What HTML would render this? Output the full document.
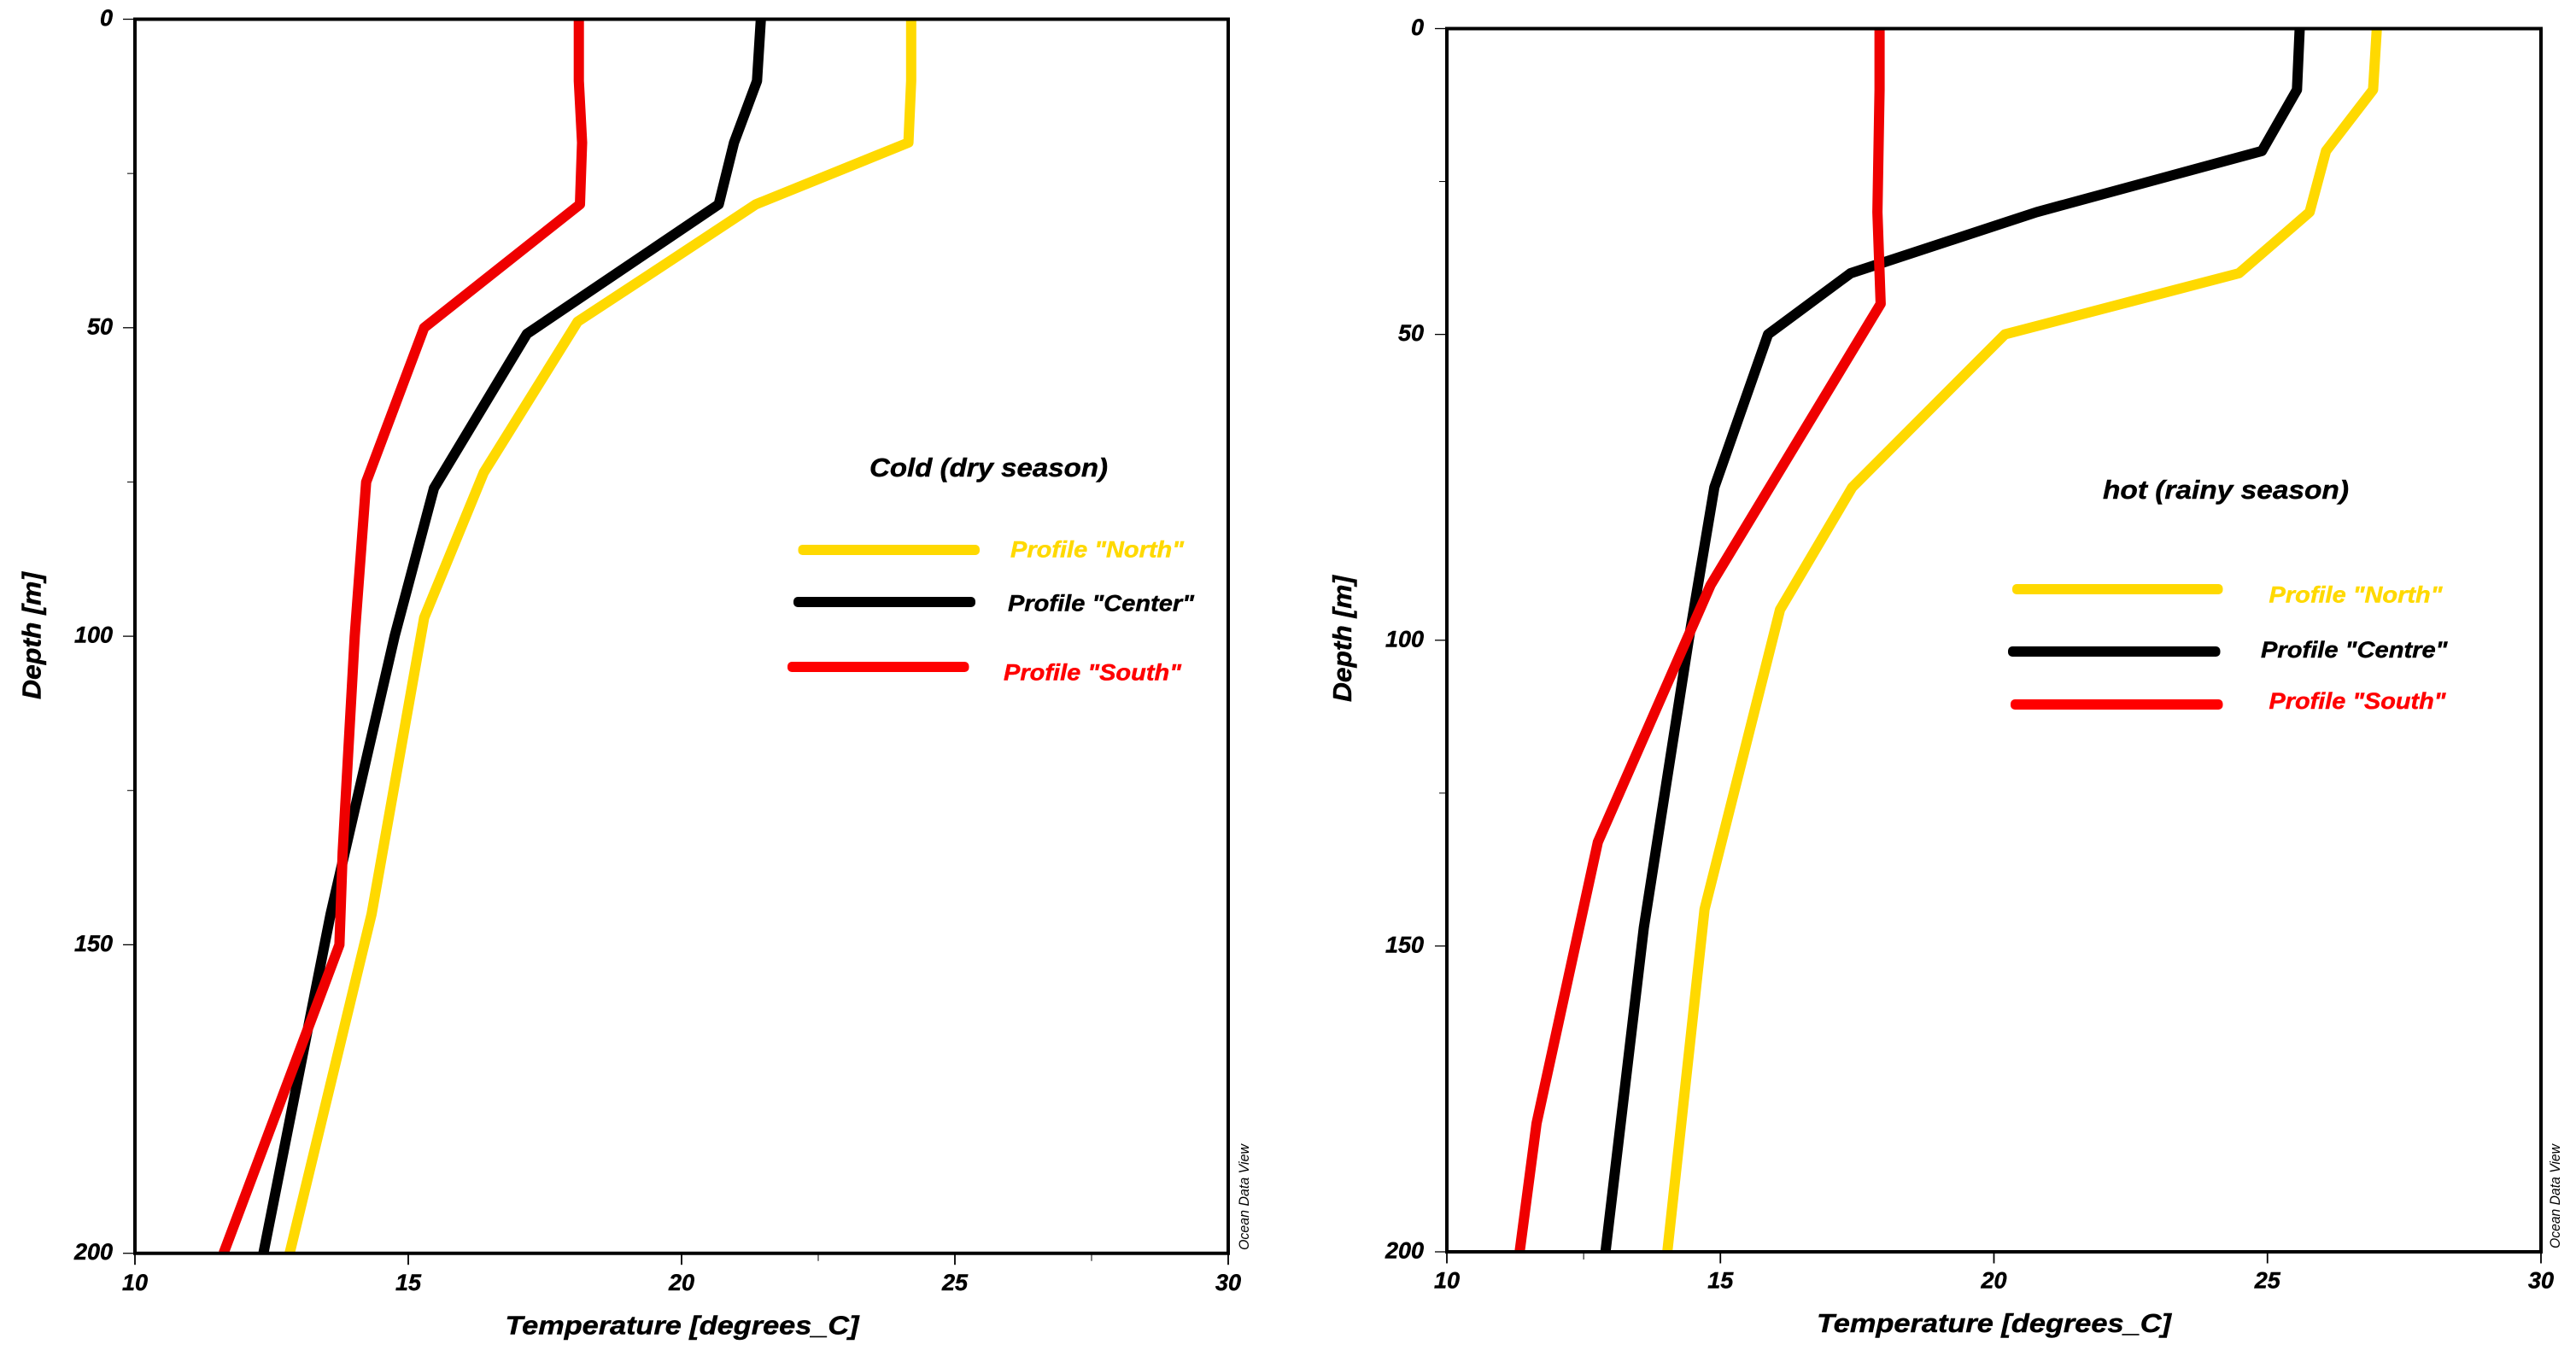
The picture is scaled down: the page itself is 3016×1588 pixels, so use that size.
<!DOCTYPE html>
<html lang="en">
<head>
<meta charset="utf-8">
<title>Temperature profiles by season</title>
<style>
  html, body { margin: 0; padding: 0; background: #fff; }
  svg { display: block; }
  text { font-family: "Liberation Sans", sans-serif; font-weight: bold; font-style: italic; fill: #000; stroke: #000; stroke-width: 0.45px; }
  .tick-label { font-size: 27px; }
  .axis-title { font-size: 31px; }
  .legend-title { font-size: 31px; }
  .legend-label { font-size: 27px; }
  .credit { font-size: 17px; font-weight: normal; stroke-width: 0; }
  .north-text { fill: #ffd900; stroke: #ffd900; }
  .south-text { fill: #ff0000; stroke: #ff0000; }
</style>
</head>
<body>
<svg id="chart" xmlns="http://www.w3.org/2000/svg" width="3016" height="1588" viewBox="0 0 3016 1588">
  <rect x="0" y="0" width="3016" height="1588" fill="#fff"/>
  <defs>
    <clipPath id="clip-cold"><rect x="158" y="22.5" width="1280" height="1445"/></clipPath>
    <clipPath id="clip-hot"><rect x="1694" y="33.5" width="1281" height="1432.5"/></clipPath>
  </defs>

  <g id="panel-cold">
    <text class="axis-title" x="591.5" y="1562.7" textLength="414" lengthAdjust="spacingAndGlyphs">Temperature [degrees_C]</text>
    <text class="axis-title" transform="translate(47.3,819) rotate(-90)" textLength="149" lengthAdjust="spacingAndGlyphs">Depth [m]</text>
    <text class="credit" transform="translate(1462,1464) rotate(-90)" textLength="124" lengthAdjust="spacingAndGlyphs">Ocean Data View</text>
    <g>
      <text class="legend-title" x="1018" y="558" textLength="279" lengthAdjust="spacingAndGlyphs">Cold (dry season)</text>
      <g>
        <rect x="934.5" y="638" width="212.5" height="12" rx="5" fill="#ffd900"/>
        <text class="legend-label north-text" x="1183" y="652.5" textLength="203" lengthAdjust="spacingAndGlyphs">Profile "North"</text>
      </g>
      <g>
        <rect x="929" y="699" width="213" height="12" rx="5" fill="#000"/>
        <text class="legend-label" x="1180" y="715.5" textLength="218" lengthAdjust="spacingAndGlyphs">Profile "Center"</text>
      </g>
      <g>
        <rect x="922" y="775" width="212.5" height="12" rx="5" fill="#ff0000"/>
        <text class="legend-label south-text" x="1175" y="796.5" textLength="208" lengthAdjust="spacingAndGlyphs">Profile "South"</text>
      </g>
    </g>
  </g>

  <g id="panel-hot">
    <text class="axis-title" x="2127" y="1560" textLength="415" lengthAdjust="spacingAndGlyphs">Temperature [degrees_C]</text>
    <text class="axis-title" transform="translate(1582,822) rotate(-90)" textLength="148" lengthAdjust="spacingAndGlyphs">Depth [m]</text>
    <text class="credit" transform="translate(2997,1462) rotate(-90)" textLength="122" lengthAdjust="spacingAndGlyphs">Ocean Data View</text>
    <g>
      <text class="legend-title" x="2462" y="584" textLength="288" lengthAdjust="spacingAndGlyphs">hot (rainy season)</text>
      <g>
        <rect x="2356" y="684" width="246.5" height="12" rx="5" fill="#ffd900"/>
        <text class="legend-label north-text" x="2656.5" y="705.5" textLength="203" lengthAdjust="spacingAndGlyphs">Profile "North"</text>
      </g>
      <g>
        <rect x="2351" y="757" width="248.5" height="12" rx="5" fill="#000"/>
        <text class="legend-label" x="2647" y="770" textLength="218.5" lengthAdjust="spacingAndGlyphs">Profile "Centre"</text>
      </g>
      <g>
        <rect x="2354" y="819" width="248.5" height="12" rx="5" fill="#ff0000"/>
        <text class="legend-label south-text" x="2656.5" y="830" textLength="207" lengthAdjust="spacingAndGlyphs">Profile "South"</text>
      </g>
    </g>
  </g>
</svg>

<script>
// Axis ticks and labels
var xTickLabels = ['10', '15', '20', '25', '30'];
var yTickLabels = ['0', '50', '100', '150', '200'];
var coldXMinorTicks = [22.5, 27.5];
var coldYMinorTicks = [25, 75, 125];
var hotXMinorTicks = [12.5];
var hotYMinorTicks = [25, 125];

// Cold (dry season) profiles
var coldNorthDepth = [0, 10, 20, 30, 40, 49, 73.5, 97, 145, 200];
var coldNorthTemp = [24.2, 24.2, 24.15, 21.36, 19.65, 18.1, 16.38, 15.29, 14.33, 12.83];
var coldCenterDepth = [0, 10, 20, 30, 51, 76, 100, 145, 200];
var coldCenterTemp = [21.45, 21.38, 20.96, 20.68, 17.17, 15.47, 14.75, 13.58, 12.35];
var coldSouthDepth = [0, 10, 20, 30, 50, 75, 100, 135, 150, 200];
var coldSouthTemp = [18.12, 18.12, 18.18, 18.14, 15.29, 14.23, 14.02, 13.8, 13.74, 11.62];

// Hot (rainy season) profiles
var hotNorthDepth = [0, 10, 20, 30, 40, 50, 75, 95, 144, 200];
var hotNorthTemp = [27.0, 26.93, 26.07, 25.77, 24.48, 20.2, 17.41, 16.09, 14.71, 14.03];
var hotCentreDepth = [0, 10, 20, 30, 40, 50, 75, 100, 147, 200];
var hotCentreTemp = [25.59, 25.54, 24.9, 20.78, 17.38, 15.87, 14.89, 14.42, 13.6, 12.9];
var hotSouthDepth = [0, 10, 30, 45, 91, 133, 179, 200];
var hotSouthTemp = [17.91, 17.91, 17.87, 17.93, 14.82, 12.76, 11.64, 11.33];

var NS = 'http://www.w3.org/2000/svg';
var YELLOW = '#ffd900';
var BLACK = '#000000';
var RED = '#ef0000';

var coldPanel = { key: 'cold', left: 158, right: 1438, top: 22.5, bottom: 1467.7, yLabelRight: 132, xLabelBase: 1511, xMinorTicks: coldXMinorTicks, yMinorTicks: coldYMinorTicks };
var hotPanel = { key: 'hot', left: 1694, right: 2975, top: 33.5, bottom: 1466, yLabelRight: 1667, xLabelBase: 1508.5, xMinorTicks: hotXMinorTicks, yMinorTicks: hotYMinorTicks };

function xScale(p, t) { return p.left + (t - 10) / 20 * (p.right - p.left); }
function yScale(p, d) { return p.top + d / 200 * (p.bottom - p.top); }

function makeLine(x1, y1, x2, y2, w) {
  var l = document.createElementNS(NS, 'line');
  l.setAttribute('x1', x1);
  l.setAttribute('y1', y1);
  l.setAttribute('x2', x2);
  l.setAttribute('y2', y2);
  l.setAttribute('stroke', '#000');
  l.setAttribute('stroke-width', w);
  return l;
}

function drawProfile(p, group, name, depths, temps, color) {
  var pts = depths.map(function (d, i) { return xScale(p, temps[i]).toFixed(1) + ',' + yScale(p, d).toFixed(1); });
  var el = document.createElementNS(NS, 'polyline');
  
  
  el.setAttribute('points', pts.join(' '));
  el.setAttribute('fill', 'none');
  el.setAttribute('stroke', color);
  el.setAttribute('stroke-width', '12');
  el.setAttribute('stroke-linejoin', 'round');
  el.setAttribute('clip-path', 'url(#clip-' + p.key + ')');
  group.appendChild(el);
}

function drawAxes(p, group) {
  xTickLabels.forEach(function (label) {
    var x = xScale(p, Number(label));
    var tick = makeLine(x, p.bottom, x, p.bottom + 13.5, 1.8);
    
    
    group.appendChild(tick);
    var t = document.createElementNS(NS, 'text');
    
    
    t.setAttribute('class', 'tick-label');
    t.setAttribute('x', x);
    t.setAttribute('y', p.xLabelBase);
    t.setAttribute('text-anchor', 'middle');
    t.textContent = label;
    group.appendChild(t);
  });
  p.xMinorTicks.forEach(function (v) {
    var x = xScale(p, v);
    var tick = makeLine(x, p.bottom, x, p.bottom + 9, 1);
    
    
    group.appendChild(tick);
  });
  yTickLabels.forEach(function (label) {
    var y = yScale(p, Number(label));
    var tick = makeLine(p.left - 14, y, p.left, y, 1.3);
    
    
    group.appendChild(tick);
    var t = document.createElementNS(NS, 'text');
    
    
    t.setAttribute('class', 'tick-label');
    t.setAttribute('x', p.yLabelRight);
    t.setAttribute('y', y + 7.5);
    t.setAttribute('text-anchor', 'end');
    t.textContent = label;
    group.appendChild(t);
  });
  p.yMinorTicks.forEach(function (v) {
    var y = yScale(p, v);
    var tick = makeLine(p.left - 9, y, p.left, y, 1);
    
    
    group.appendChild(tick);
  });
  var left = makeLine(p.left, p.top, p.left, p.bottom, 4);
  
  
  group.appendChild(left);
  var right = makeLine(p.right, p.top, p.right, p.bottom, 4);
  
  
  group.appendChild(right);
  var top = makeLine(p.left - 2, p.top, p.right + 2, p.top, 4);
  
  
  group.appendChild(top);
  var bottom = makeLine(p.left - 2, p.bottom, p.right + 2, p.bottom, 4);
  
  
  group.appendChild(bottom);
}

var coldGroup = document.getElementById('panel-cold');
var hotGroup = document.getElementById('panel-hot');

drawProfile(coldPanel, coldGroup, 'north', coldNorthDepth, coldNorthTemp, YELLOW);
drawProfile(coldPanel, coldGroup, 'center', coldCenterDepth, coldCenterTemp, BLACK);
drawProfile(coldPanel, coldGroup, 'south', coldSouthDepth, coldSouthTemp, RED);
drawAxes(coldPanel, coldGroup);

drawProfile(hotPanel, hotGroup, 'north', hotNorthDepth, hotNorthTemp, YELLOW);
drawProfile(hotPanel, hotGroup, 'centre', hotCentreDepth, hotCentreTemp, BLACK);
drawProfile(hotPanel, hotGroup, 'south', hotSouthDepth, hotSouthTemp, RED);
drawAxes(hotPanel, hotGroup);
</script>
</body>
</html>
